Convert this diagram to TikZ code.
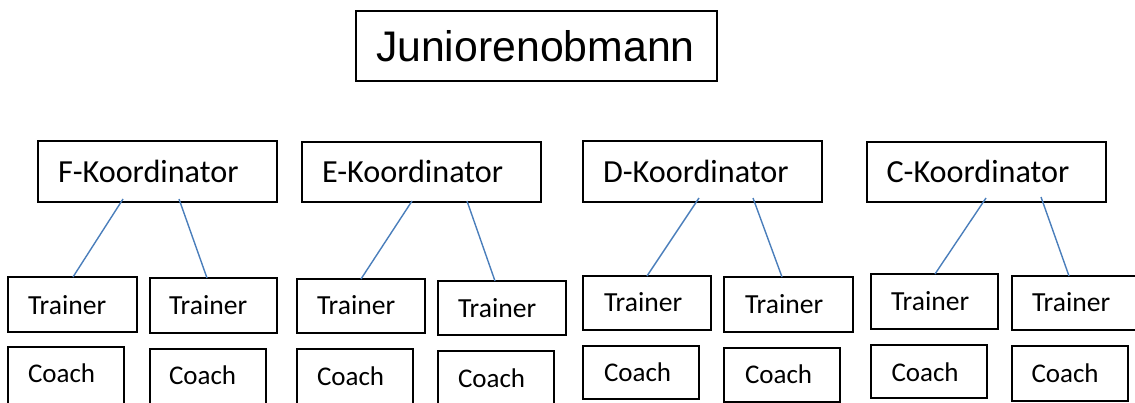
\documentclass[tikz,border=0pt]{standalone}
\usepackage{fontspec}
\setmainfont{Carlito}
\newfontfamily\arialf{Liberation Sans}
\definecolor{lineblue}{HTML}{4A7EBB}
\newcommand\mybox[5]{\node[box, anchor=north west, minimum width={(#4-#2)*1pt}, minimum height={(#5-#3)*1pt}] (#1) at (#2,#3) {};}
\newcommand\mytext[5]{\node[txt, font=\fontsize{#5}{#5}\selectfont] (#1) at (#2,#3) {#4};}
\begin{document}
\begin{tikzpicture}[x=1pt,y=-1pt,
  box/.style={draw=black, line width=1.4pt, inner sep=0pt, outer sep=0pt},
  txt/.style={anchor=base west, inner sep=0pt, outer sep=0pt},
  link/.style={draw=lineblue, line width=1.4pt}]
\useasboundingbox (0,0) rectangle (1135,403);
\clip (0,0) rectangle (1135,403);
% top
\mybox{J}{356}{11}{717}{81}
\node[txt, font=\arialf\fontsize{42.8}{42.8}\selectfont] (Jt) at (376,61.5) {Juniorenobmann};
% coordinators
\mybox{F}{38}{141}{277}{202}
\mybox{E}{302}{142}{541}{202}
\mybox{D}{583}{141}{822}{202}
\mybox{C}{867}{142}{1106}{202}
\mytext{Ft}{58}{183}{F-Koordinator}{32.2}
\mytext{Et}{322}{183}{E-Koordinator}{32.2}
\mytext{Dt}{603}{183}{D-Koordinator}{32.2}
\mytext{Ct}{886.5}{183}{C-Koordinator}{32.2}
% trainers
\mybox{F1}{8}{277}{137}{332}
\mybox{F2}{150}{278}{277}{333}
\mybox{E1}{297}{279}{425}{333}
\mybox{E2}{438}{281}{566}{335}
\mybox{D1}{583}{276}{711}{330}
\mybox{D2}{724}{277}{853}{332}
\mybox{C1}{871}{274}{998}{329}
\mybox{C2}{1012}{276}{1140}{330}
\mytext{F1t}{28}{314}{Trainer}{27.6}
\mytext{F2t}{169}{315}{Trainer}{27.6}
\mytext{E1t}{317}{315}{Trainer}{27.6}
\mytext{E2t}{458}{317}{Trainer}{27.6}
\mytext{D1t}{604}{312}{Trainer}{27.6}
\mytext{D2t}{745}{313}{Trainer}{27.6}
\mytext{C1t}{891}{310}{Trainer}{27.6}
\mytext{C2t}{1032}{312}{Trainer}{27.6}
% coaches
\mybox{F3}{8}{347}{124}{407}
\mybox{F4}{150}{349}{266}{407}
\mybox{E3}{297}{349}{413}{407}
\mybox{E4}{438}{351}{554}{407}
\mybox{D3}{583}{346}{699}{399}
\mybox{D4}{724}{348}{840}{402}
\mybox{C3}{871}{345}{987}{398}
\mybox{C4}{1012}{346}{1128}{401}
\mytext{F3t}{28}{382}{Coach}{27}
\mytext{F4t}{169}{384}{Coach}{27}
\mytext{E3t}{317}{385}{Coach}{27}
\mytext{E4t}{458}{387}{Coach}{27}
\mytext{D3t}{604}{381}{Coach}{27}
\mytext{D4t}{745}{383}{Coach}{27}
\mytext{C3t}{891.5}{381}{Coach}{27}
\mytext{C4t}{1031.5}{382}{Coach}{27}
% connectors
\draw[link] ([xshift=85pt,yshift=3pt]F.south west) -- ([xshift=65pt]F1.north west);
\draw[link] ([xshift=141pt,yshift=3pt]F.south west) -- ([xshift=57pt]F2.north west);
\draw[link] ([xshift=110pt,yshift=1pt]E.south west) -- ([xshift=64pt]E1.north west);
\draw[link] ([xshift=165pt,yshift=1pt]E.south west) -- ([xshift=57pt]E2.north west);
\draw[link] ([xshift=116pt,yshift=4pt]D.south west) -- ([xshift=64pt]D1.north west);
\draw[link] ([xshift=170pt,yshift=4pt]D.south west) -- ([xshift=58pt]D2.north west);
\draw[link] ([xshift=119pt,yshift=4pt]C.south west) -- ([xshift=64pt]C1.north west);
\draw[link] ([xshift=174pt,yshift=5pt]C.south west) -- ([xshift=57pt]C2.north west);
\end{tikzpicture}
\end{document}
